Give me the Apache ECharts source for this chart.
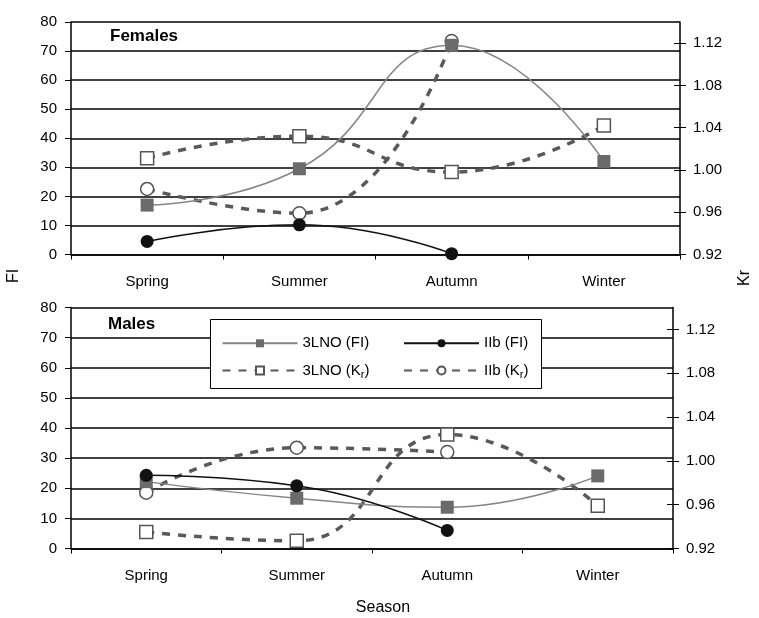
<!DOCTYPE html>
<html>
<head>
<meta charset="utf-8">
<script src="https://cdn.jsdelivr.net/npm/echarts@6/dist/echarts.min.js"></script>
<style>html,body{margin:0;padding:0;background:#fff}#c{width:759px;height:618px}</style>
</head>
<body>
<div id="c"></div>
<script>
const seasons = ['Spring', 'Summer', 'Autumn', 'Winter'];
const fiTicks = [0, 10, 20, 30, 40, 50, 60, 70, 80];
const krTicks = [0.92, 0.96, 1.00, 1.04, 1.08, 1.12];

// Females
const femLNO_FI = [17, 29.5, 72, 32];
const femIIb_FI = [4.5, 10.2, 0.3, null];
const femLNO_Kr = [1.011, 1.032, 0.998, 1.042];
const femIIb_Kr = [0.982, 0.959, 1.122, null];
// Males
const maleLNO_FI = [22.2, 16.7, 13.7, 24.1];
const maleIIb_FI = [24.3, 20.8, 6.0, null];
const maleLNO_Kr = [0.935, 0.927, 1.024, 0.959];
const maleIIb_Kr = [0.971, 1.012, 1.008, null];

const FONT = 'Liberation Sans';
const DASH = '#595959';

function xAxisFor(gi) {
  return {
    type: 'category', gridIndex: gi, data: seasons, boundaryGap: true,
    axisLine: {show: true, lineStyle: {color: '#000', width: 1.5}},
    axisTick: {show: true, length: 5, alignWithLabel: false, lineStyle: {color: '#000', width: 1}},
    axisLabel: {color: '#000', fontFamily: FONT, fontSize: 15, margin: 20},
    splitLine: {show: false}
  };
}
function fiAxis(gi) {
  return {
    type: 'value', gridIndex: gi, position: 'left', min: fiTicks[0], max: fiTicks[fiTicks.length - 1], interval: 10,
    axisLine: {show: true, lineStyle: {color: '#000', width: 1.5}},
    axisTick: {show: true, length: 6, lineStyle: {color: '#000', width: 1}},
    axisLabel: {color: '#000', fontFamily: FONT, fontSize: 15, margin: 14},
    splitLine: {show: true, lineStyle: {color: '#000', width: 1.5}}
  };
}
function krAxis(gi, inside) {
  return {
    type: 'value', gridIndex: gi, position: 'right', min: 0.92, max: 1.14,
    axisLine: {show: !inside, lineStyle: {color: '#000', width: 1.5}},
    axisTick: {show: true, inside: inside, length: 6, customValues: krTicks, lineStyle: {color: '#000', width: 1}},
    axisLabel: {show: !inside, customValues: krTicks, color: '#000', fontFamily: FONT, fontSize: 15, margin: 13,
      formatter: v => Number(v).toFixed(2)},
    splitLine: {show: false}
  };
}

function lnoFI(name, data, xi, yi) {
  return {name, type: 'line', xAxisIndex: xi, yAxisIndex: yi, data, smooth: 0.5,
    symbol: 'rect', symbolSize: 13, showAllSymbol: true,
    itemStyle: {color: '#6b6b6b'}, lineStyle: {color: '#858585', width: 1.5}, z: 3};
}
function iibFI(name, data, xi, yi) {
  return {name, type: 'line', xAxisIndex: xi, yAxisIndex: yi, data, smooth: 0.5,
    symbol: 'circle', symbolSize: 13, showAllSymbol: true,
    itemStyle: {color: '#111'}, lineStyle: {color: '#111', width: 1.5}, z: 3};
}
function lnoKr(name, data, xi, yi) {
  return {name, type: 'line', xAxisIndex: xi, yAxisIndex: yi, data, smooth: 0.5,
    symbol: 'rect', symbolSize: 13, showAllSymbol: true,
    itemStyle: {color: '#fff', borderColor: '#555', borderWidth: 1.5},
    lineStyle: {color: DASH, width: 3.5, type: [8, 8]}, z: 2};
}
function iibKr(name, data, xi, yi) {
  return {name, type: 'line', xAxisIndex: xi, yAxisIndex: yi, data, smooth: 0.5,
    symbol: 'circle', symbolSize: 13, showAllSymbol: true,
    itemStyle: {color: '#fff', borderColor: '#555', borderWidth: 1.5},
    lineStyle: {color: DASH, width: 3.5, type: [8, 8]}, z: 2};
}

const N1 = '3LNO (FI)', N2 = 'IIb (FI)', N3 = '3LNO (Kr)', N4 = 'IIb (Kr)';
const legendText = {
  color: '#000', fontFamily: FONT, fontSize: 15, lineHeight: 18,
  rich: {
    n: {color: '#000', fontFamily: FONT, fontSize: 15, lineHeight: 18},
    sub: {color: '#000', fontFamily: FONT, fontSize: 11, lineHeight: 18, padding: [8, 0, 0, 0]}
  }
};
const legFmt = name => {
  if (name.indexOf('(Kr)') >= 0) return '{n|' + name.replace('(Kr)', '(K') + '}{sub|r}{n|)}';
  return '{n|' + name + '}';
};

const option = {
  backgroundColor: '#fff',
  animation: false,
  grid: [
    {left: 71, top: 22, right: 79, height: 232.5, containLabel: false},
    {left: 71, top: 307.5, right: 86, height: 241, containLabel: false}
  ],
  xAxis: [xAxisFor(0), xAxisFor(1)],
  yAxis: [fiAxis(0), krAxis(0, false), krAxis(0, true), fiAxis(1), krAxis(1, false), krAxis(1, true)],
  legend: [
    {data: [N1, N3], orient: 'vertical', left: 221.5, top: 334.3, padding: 0, itemGap: 8.7,
     itemWidth: 75, itemHeight: 10, textStyle: legendText, formatter: legFmt, z: 6, selectedMode: false},
    {data: [N2, N4], orient: 'vertical', left: 403, top: 334.3, padding: 0, itemGap: 8.7,
     itemWidth: 75, itemHeight: 10, textStyle: legendText, formatter: legFmt, z: 6, selectedMode: false}
  ],
  graphic: [
    {type: 'rect', z: 5, shape: {x: 210.5, y: 319.5, width: 331, height: 69},
     style: {fill: '#fff', stroke: '#000', lineWidth: 1}},
    {type: 'text', z: 6, x: 110, y: 36, style: {text: 'Females', fill: '#000', font: 'bold 17px "Liberation Sans"', textAlign: 'left', textVerticalAlign: 'middle'}},
    {type: 'text', z: 6, x: 108, y: 324, style: {text: 'Males', fill: '#000', font: 'bold 17px "Liberation Sans"', textAlign: 'left', textVerticalAlign: 'middle'}},
    {type: 'text', z: 6, x: 13.5, y: 276, rotation: Math.PI / 2, style: {text: 'FI', fill: '#000', font: '16px "Liberation Sans"', textAlign: 'center', textVerticalAlign: 'middle'}},
    {type: 'text', z: 6, x: 744.5, y: 278, rotation: Math.PI / 2, style: {text: 'Kr', fill: '#000', font: '16px "Liberation Sans"', textAlign: 'center', textVerticalAlign: 'middle'}},
    {type: 'text', z: 6, x: 383, y: 608, style: {text: 'Season', fill: '#000', font: '16px "Liberation Sans"', textAlign: 'center', textVerticalAlign: 'middle'}}
  ],
  series: [
    lnoKr(N3, femLNO_Kr, 0, 1),
    iibKr(N4, femIIb_Kr, 0, 1),
    lnoFI(N1, femLNO_FI, 0, 0),
    iibFI(N2, femIIb_FI, 0, 0),
    lnoKr(N3, maleLNO_Kr, 1, 4),
    iibKr(N4, maleIIb_Kr, 1, 4),
    lnoFI(N1, maleLNO_FI, 1, 3),
    iibFI(N2, maleIIb_FI, 1, 3)
  ]
};
const chart = echarts.init(document.getElementById('c'), null, {renderer: 'canvas'});
chart.setOption(option);
</script>
</body>
</html>
